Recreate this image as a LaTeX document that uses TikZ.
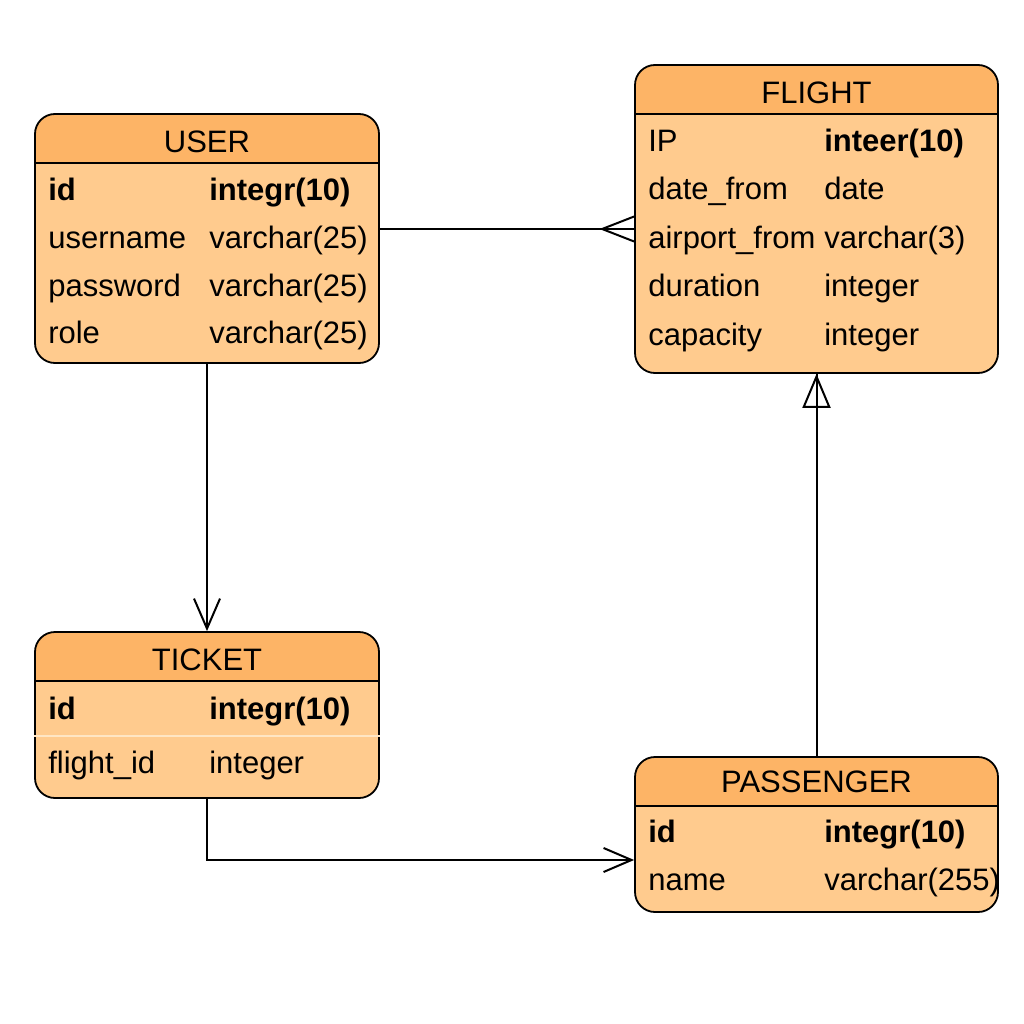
\documentclass[tikz,border=0pt]{standalone}
\usepackage{fontspec}
\setmainfont{Liberation Sans}
\usetikzlibrary{arrows.meta, positioning, calc}
\definecolor{head_orange}{HTML}{FDB466}
\definecolor{body_orange}{HTML}{FFCB8E}
\definecolor{rule_light}{HTML}{FFE6C4}
\tikzset{
  table_font/.style = {font=\fontsize{31}{37}\selectfont},
  outline/.style = {line width=1.8pt},
  table_head/.store in = \tableheadheight,
  table_head = 49pt
}
\tikzset{
  table/.style = {outline, draw, rounded corners=20pt, fill=body_orange, inner sep=0pt,
    path picture={
      \fill[head_orange, sharp corners] (path picture bounding box.north west)
        rectangle ([yshift=-\tableheadheight]path picture bounding box.north east);
      \draw[outline, sharp corners] ([yshift=-\tableheadheight]path picture bounding box.north west)
        -- ([yshift=-\tableheadheight]path picture bounding box.north east);
    }},
  title/.style = {table_font, inner sep=0pt, text height=22pt, text depth=6pt},
  field/.style = {title, anchor=west},
  link/.style = {line width=2pt},
  open_barb/.style = {-{Straight Barb[length=30pt, width=26pt]}}
}

\begin{document}
\begin{tikzpicture}[x=1pt, y=-1pt]
    \useasboundingbox (0,0) rectangle (1024,1024);

    % Tables
    \node[table, minimum width=344pt, minimum height=249pt] (user) at (207,238.5) {};
    \node[table, minimum width=363pt, minimum height=308pt] (flight) at (816.5,219) {};
    \node[table, minimum width=344pt, minimum height=166pt] (ticket) at (207,715) {};
    \node[table, minimum width=363pt, minimum height=155pt] (passenger) at (816.5,834.5) {};
    \draw[rule_light, line width=1.5pt] ([yshift=-105pt]ticket.north west) -- ([yshift=-105pt]ticket.north east);

    % USER
    \node[title] (user_title) at ([yshift=-31pt]user.north) {USER};
    \node[field] (user_id) at ([shift={(14,79)}]user.north west) {\textbf{id}};
    \node[field] (user_username) at ([yshift=-48pt]user_id.west) {username};
    \node[field] (user_password) at ([yshift=-48pt]user_username.west) {password};
    \node[field] (user_role) at ([yshift=-47pt]user_password.west) {role};
    \node[field] (user_id_type) at ([xshift=161pt]user_id.west) {\textbf{integr(10)}};
    \node[field] (user_username_type) at ([xshift=161pt]user_username.west) {varchar(25)};
    \node[field] (user_password_type) at ([xshift=161pt]user_password.west) {varchar(25)};
    \node[field] (user_role_type) at ([xshift=161pt]user_role.west) {varchar(25)};

    % FLIGHT
    \node[title] (flight_title) at ([yshift=-31pt]flight.north) {FLIGHT};
    \node[field] (flight_ip) at ([shift={(14,79)}]flight.north west) {IP};
    \node[field] (flight_date) at ([yshift=-48.5pt]flight_ip.west) {date\_from};
    \node[field] (flight_airport) at ([yshift=-48.5pt]flight_date.west) {airport\_from};
    \node[field] (flight_duration) at ([yshift=-48.5pt]flight_airport.west) {duration};
    \node[field] (flight_capacity) at ([yshift=-48.5pt]flight_duration.west) {capacity};
    \node[field] (flight_ip_type) at ([xshift=176pt]flight_ip.west) {\textbf{inteer(10)}};
    \node[field] (flight_date_type) at ([xshift=176pt]flight_date.west) {date};
    \node[field] (flight_airport_type) at ([xshift=176pt]flight_airport.west) {varchar(3)};
    \node[field] (flight_duration_type) at ([xshift=176pt]flight_duration.west) {integer};
    \node[field] (flight_capacity_type) at ([xshift=176pt]flight_capacity.west) {integer};

    % TICKET
    \node[title] (ticket_title) at ([yshift=-31pt]ticket.north) {TICKET};
    \node[field] (ticket_id) at ([shift={(14,80)}]ticket.north west) {\textbf{id}};
    \node[field] (ticket_flight) at ([yshift=-54pt]ticket_id.west) {flight\_id};
    \node[field] (ticket_id_type) at ([xshift=161pt]ticket_id.west) {\textbf{integr(10)}};
    \node[field] (ticket_flight_type) at ([xshift=161pt]ticket_flight.west) {integer};

    % PASSENGER
    \node[title] (passenger_title) at ([yshift=-28pt]passenger.north) {PASSENGER};
    \node[field] (passenger_id) at ([shift={(14,78)}]passenger.north west) {\textbf{id}};
    \node[field] (passenger_name) at ([yshift=-48pt]passenger_id.west) {name};
    \node[field] (passenger_id_type) at ([xshift=176pt]passenger_id.west) {\textbf{integr(10)}};
    \node[field] (passenger_name_type) at ([xshift=176pt]passenger_name.west) {varchar(255)};

    % Links
    \coordinate (user_link) at ([yshift=9.5pt]user.east);
    \draw[link] (user_link) -- (user_link -| flight.west) coordinate (crow_foot);
    \draw[link] ([xshift=-32pt]crow_foot) -- ([yshift=12.5pt]crow_foot);
    \draw[link] ([xshift=-32pt]crow_foot) -- ([yshift=-12.5pt]crow_foot);

    \draw[link, open_barb] (user) -- (ticket);
    \draw[link, -{Straight Barb[length=28pt, width=24pt]}] (ticket.south) |- ([yshift=-25.5pt]passenger.west);

    \draw[link] (passenger) -- (flight);
    \draw[link, -{Triangle[open, length=34pt, width=28pt]}] (passenger) -- (flight);
\end{tikzpicture}
\end{document}
